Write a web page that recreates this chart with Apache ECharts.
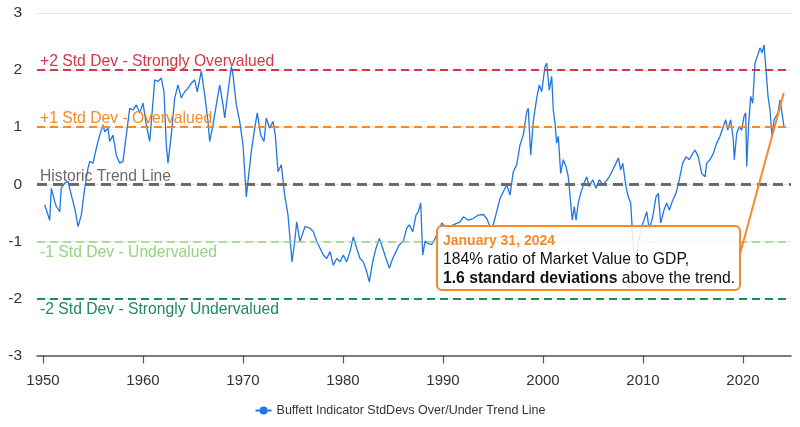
<!DOCTYPE html>
<html>
<head>
<meta charset="utf-8">
<script src="https://cdn.jsdelivr.net/npm/echarts@6/dist/echarts.min.js"></script>
<style>
html,body{margin:0;padding:0;background:#fff;}
#chart{width:800px;height:427px;}
</style>
</head>
<body>
<div id="chart"></div>
<script>
// ---- data ----
const years = [
1950.17,1950.67,1950.83,1951.17,1951.33,1951.67,1951.83,1952.17,1952.5,1952.83,
1953.17,1953.5,1953.67,1953.83,1954.17,1954.5,1954.67,1955.0,1955.33,1955.67,
1956.0,1956.17,1956.5,1956.67,1957.0,1957.33,1957.67,1958.0,1958.33,1958.67,
1959.0,1959.33,1959.67,1960.0,1960.33,1960.67,1961.0,1961.17,1961.5,1961.83,
1962.1,1962.33,1962.5,1962.83,1963.17,1963.5,1963.83,1964.17,1964.5,1964.83,
1965.17,1965.43,1965.83,1966.17,1966.5,1966.67,1967.0,1967.33,1967.67,1968.0,
1968.17,1968.5,1968.83,1969.0,1969.33,1969.67,1970.0,1970.33,1970.5,1970.83,
1971.17,1971.43,1971.77,1972.1,1972.33,1972.67,1973.0,1973.23,1973.5,1973.83,
1974.17,1974.5,1974.9,1975.17,1975.37,1975.7,1976.2,1976.7,1977.03,1977.37,
1977.7,1978.03,1978.37,1978.7,1979.03,1979.37,1979.7,1980.03,1980.37,1980.7,
1981.03,1981.37,1981.7,1982.03,1982.37,1982.63,1982.97,1983.3,1983.63,1983.97,
1984.3,1984.63,1984.97,1985.3,1985.63,1986.03,1986.37,1986.63,1986.97,1987.3,
1987.53,1987.77,1987.97,1988.2,1988.53,1988.87,1989.2,1989.53,1989.87,1990.37,
1991.03,1991.7,1992.03,1992.53,1993.03,1993.53,1994.03,1994.37,1994.7,1995.03,
1995.37,1995.7,1996.03,1996.37,1996.7,1997.03,1997.37,1997.7,1998.03,1998.37,
1998.53,1998.77,1999.03,1999.37,1999.63,1999.87,2000.2,2000.37,2000.63,2000.87,
2001.03,2001.2,2001.37,2001.53,2001.77,2002.03,2002.3,2002.53,2002.77,2002.93,
2003.13,2003.3,2003.53,2003.77,2004.1,2004.37,2004.63,2004.97,2005.3,2005.63,
2005.97,2006.3,2006.63,2006.97,2007.3,2007.53,2007.77,2007.97,2008.3,2008.53,
2008.77,2008.97,2009.2,2009.53,2009.87,2010.1,2010.37,2010.63,2010.97,2011.3,
2011.53,2011.77,2012.1,2012.37,2012.63,2012.97,2013.3,2013.63,2013.97,2014.3,
2014.63,2014.97,2015.2,2015.53,2015.87,2016.2,2016.37,2016.7,2017.03,2017.37,
2017.7,2018.03,2018.27,2018.47,2018.77,2019.03,2019.13,2019.37,2019.63,2019.87,
2020.1,2020.27,2020.37,2020.57,2020.77,2020.97,2021.2,2021.43,2021.7,2021.9,
2022.1,2022.3,2022.5,2022.7,2022.9,2023.1,2023.3,2023.5,2023.7,2023.9,
2024.1
];
const values = [
-0.36,-0.63,-0.07,-0.30,-0.39,-0.48,-0.07,0.02,0.05,-0.19,
-0.42,-0.74,-0.77,-0.54,-0.07,0.28,0.40,0.37,0.63,0.86,
1.04,0.92,0.98,0.75,0.86,0.51,0.37,0.40,0.86,1.33,
1.30,1.39,1.25,1.42,1.04,0.75,1.45,1.83,1.80,1.86,
1.62,0.69,0.37,0.86,1.51,1.74,1.51,1.62,1.68,1.77,
1.83,1.62,1.98,1.57,1.10,0.75,1.04,1.39,1.74,1.39,
1.16,1.62,2.06,1.92,1.39,1.10,0.69,-0.22,0.05,0.57,
0.98,1.25,0.86,0.75,1.16,0.98,1.10,0.86,0.22,0.34,
-0.19,-0.54,-1.36,-1.00,-0.66,-1.00,-0.74,-0.77,-0.83,-1.00,
-1.12,-1.24,-1.30,-1.18,-1.42,-1.30,-1.36,-1.24,-1.36,-1.18,
-0.92,-1.12,-1.30,-1.36,-1.53,-1.71,-1.36,-1.12,-0.95,-1.12,
-1.30,-1.47,-1.30,-1.18,-1.06,-1.00,-0.77,-0.71,-0.83,-0.54,
-0.48,-0.33,-1.24,-1.00,-1.04,-1.06,-0.95,-0.83,-0.68,-0.77,
-0.71,-0.66,-0.57,-0.63,-0.60,-0.54,-0.53,-0.60,-0.74,-0.71,
-0.48,-0.25,-0.13,-0.01,-0.19,0.22,0.34,0.69,0.86,1.27,
1.33,0.51,1.10,1.51,1.74,1.62,2.06,2.12,1.65,1.89,
1.30,1.07,0.72,0.84,0.19,0.43,0.31,0.13,-0.33,-0.63,
-0.39,-0.63,-0.33,-0.16,0.02,0.13,-0.04,0.08,-0.07,0.08,
-0.01,0.05,0.13,0.25,0.37,0.46,0.25,0.37,-0.04,-0.22,
-0.33,-0.92,-1.40,-1.04,-0.74,-0.63,-0.48,-0.80,-0.57,-0.22,
-0.16,-0.68,-0.45,-0.33,-0.45,-0.28,-0.16,0.08,0.37,0.48,
0.43,0.54,0.60,0.48,0.19,0.13,0.37,0.43,0.54,0.72,
0.84,1.01,1.13,0.95,1.13,0.78,0.43,0.89,1.01,0.95,
1.19,1.25,0.31,1.07,1.54,1.42,2.12,2.24,2.39,2.30,
2.44,2.01,1.54,1.30,0.84,1.13,1.13,1.25,1.48,1.48,
1.01
];
const xTickYears = [1950,1960,1970,1980,1990,2000,2010,2020];
const refLevels = [2, 1, 0, -1, -2];
const refNames = [
  '+2 Std Dev - Strongly Overvalued',
  '+1 Std Dev - Overvalued',
  'Historic Trend Line',
  '-1 Std Dev - Undervalued',
  '-2 Std Dev - Strongly Undervalued'
];
const refColors = ['#d7354b', '#f58a2a', '#6b6b6b', '#93d57f', '#1f8a5c'];
const refWidths = [2, 2, 3, 1.6, 2];
const seriesName = 'Buffett Indicator StdDevs Over/Under Trend Line';
const callout = { year: 2024.08, value: 1.6, date: 'January 31, 2024',
  line1: '184% ratio of Market Value to GDP,', bold: '1.6 standard deviations', rest: ' above the trend.' };

const FONT = '"Liberation Sans", Arial, sans-serif';
const chart = echarts.init(document.getElementById('chart'), null, {renderer: 'canvas'});

const markData = refLevels.map((lv, i) => ({
  yAxis: lv,
  name: refNames[i],
  lineStyle: { color: refColors[i], width: refWidths[i], type: i === 2 ? [10, 6] : [8, 5] },
  label: {
    show: true,
    formatter: refNames[i],
    position: lv >= 0 ? 'insideStartTop' : 'insideStartBottom',
    color: refColors[i],
    fontSize: 15.7,
    fontFamily: FONT,
    distance: lv >= 0 ? [3, 0] : [3, 3]
  }
}));

chart.setOption({
  animation: false,
  textStyle: { fontFamily: FONT },
  grid: { left: 37, right: 9, top: 13, bottom: 71.5, containLabel: false },
  legend: {
    data: [seriesName],
    bottom: 5,
    left: 'center',
    itemWidth: 16,
    itemHeight: 10,
    itemGap: 6,
    textStyle: { fontSize: 12.5, color: '#333', fontFamily: FONT }
  },
  xAxis: {
    type: 'value',
    min: 1949.4,
    max: 2024.8,
    splitLine: { show: false },
    axisLine: { onZero: false, lineStyle: { color: '#555', width: 1.5 } },
    axisTick: { customValues: xTickYears, length: 8, lineStyle: { color: '#555', width: 1.2 } },
    axisLabel: { customValues: xTickYears, fontSize: 15, color: '#333', margin: 18, fontFamily: FONT,
      formatter: v => String(Math.round(v)) }
  },
  yAxis: {
    type: 'value',
    min: -3,
    max: 3,
    interval: 1,
    axisLine: { show: false },
    axisTick: { show: false },
    splitLine: { lineStyle: { color: '#e6e6e6', width: 1 } },
    axisLabel: { fontSize: 15.5, color: '#333', margin: 15, fontFamily: FONT }
  },
  series: [
    {
      name: 'refs',
      type: 'line',
      data: [],
      z: 1,
      silent: true,
      markLine: { silent: true, symbol: 'none', animation: false, data: markData }
    },
    {
      name: seriesName,
      type: 'line',
      z: 3,
      showSymbol: false,
      symbol: 'circle',
      symbolSize: 6,
      color: '#1f76e4',
      lineStyle: { color: '#1f76e4', width: 1.3 },
      data: years.map((y, i) => [y, values[i]])
    }
  ]
});

const tip = chart.convertToPixel({ gridIndex: 0 }, [callout.year, callout.value]);
const box = { x: 437, y: 226, w: 303, h: 64 };
chart.setOption({
  graphic: [
    {
      type: 'rect', z: 100,
      shape: { x: box.x, y: box.y, width: box.w, height: box.h, r: 5 },
      style: { fill: 'rgba(255,255,255,0.86)', stroke: '#f58a2a', lineWidth: 2 }
    },
    {
      type: 'line', z: 101,
      shape: { x1: box.x + box.w, y1: box.y + 28, x2: tip[0], y2: tip[1] },
      style: { stroke: '#f58a2a', lineWidth: 2 }
    },
    {
      type: 'text', z: 102,
      x: box.x + 6, y: box.y + 6,
      style: {
        text: '{t|' + callout.date + '}\n{n|' + callout.line1 + '}\n{s|' + callout.bold + '}{n|' + callout.rest + '}',
        rich: {
          t: { fontSize: 14, fontWeight: 'bold', fill: '#f58a2a', lineHeight: 18.5, fontFamily: FONT },
          n: { fontSize: 15.7, fill: '#111', lineHeight: 18.5, fontFamily: FONT },
          s: { fontSize: 15.7, fontWeight: 'bold', fill: '#111', lineHeight: 18.5, fontFamily: FONT }
        }
      }
    }
  ]
});
</script>
</body>
</html>
